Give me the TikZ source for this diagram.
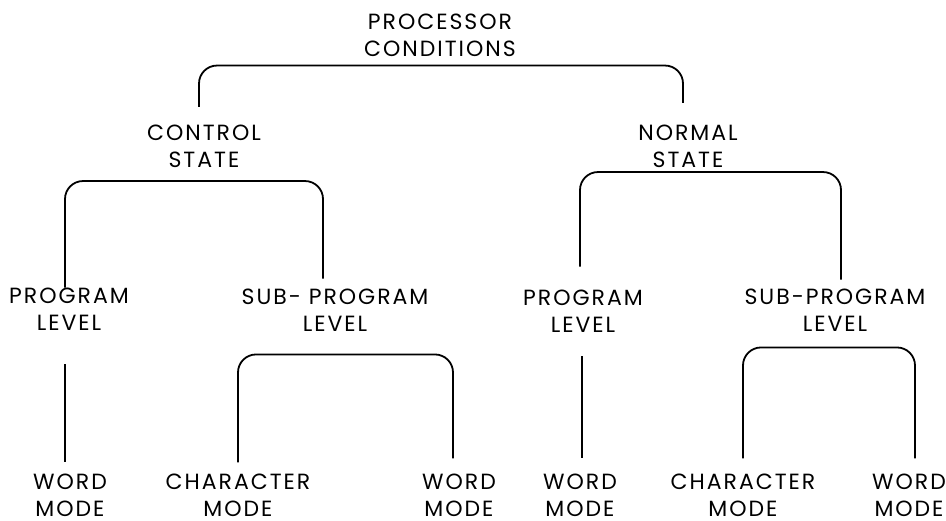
\documentclass[tikz,border=0pt]{standalone}
\usepackage{fontspec}
\setmainfont{Poppins}[LetterSpace=9]
\begin{document}
\begin{tikzpicture}[x=1pt,y=-1pt,
  lbl/.style={inner sep=0pt,align=center,font=\fontsize{22}{27}\selectfont},
  link/.style={line width=1.8pt,rounded corners=18pt}]
\useasboundingbox (0,0) rectangle (946,521);
% labels
\node[lbl] (pc)  at (440,35)    {PROCESSOR\\CONDITIONS};
\node[lbl] (cs)  at (204,146.5) {CONTROL\\STATE};
\node[lbl] (ns)  at (688,146.5) {NORMAL\\STATE};
\node[lbl] (pl1) at (69,309)    {PROGRAM\\LEVEL};
\node[lbl] (sp1) at (335,310)   {SUB- PROGRAM\\LEVEL};
\node[lbl] (pl2) at (583,311)   {PROGRAM\\LEVEL};
\node[lbl] (sp2) at (835,310)   {SUB-PROGRAM\\LEVEL};
\node[lbl] (wm1) at (70,495)    {WORD\\MODE};
\node[lbl] (cm1) at (238,495)   {CHARACTER\\MODE};
\node[lbl] (wm2) at (459,495)   {WORD\\MODE};
\node[lbl] (wm3) at (580,495)   {WORD\\MODE};
\node[lbl] (cm2) at (743,495)   {CHARACTER\\MODE};
\node[lbl] (wm4) at (909,495)   {WORD\\MODE};
% brackets and stems
\draw[link] ([xshift=-5pt,yshift=18pt]cs.north) |- ([yshift=-9pt]pc.south)
            -| ([xshift=-5pt,yshift=22pt]ns.north);
\draw[link] ([xshift=-4pt]pl1.north) |- ([yshift=-13pt]cs.south)
            -| ([xshift=-12pt,yshift=10pt]sp1.north);
\draw[link] ([xshift=-3pt,yshift=23pt]pl2.north) |- ([yshift=-4pt]ns.south)
            -| ([xshift=6pt,yshift=9pt]sp2.north);
\draw[link] ([xshift=-4pt,yshift=-34pt]pl1.south) -- ([xshift=-5pt,yshift=11pt]wm1.north);
\draw[link] ([yshift=11pt]cm1.north) |- ([yshift=-23pt]sp1.south)
            -| ([xshift=-6pt,yshift=15pt]wm2.north);
\draw[link] ([xshift=-1pt,yshift=-24pt]pl2.south) -- ([xshift=2pt,yshift=15pt]wm3.north);
\draw[link] ([yshift=15pt]cm2.north) |- ([yshift=-16pt]sp2.south)
            -| ([xshift=6pt,yshift=15pt]wm4.north);
\end{tikzpicture}
\end{document}
